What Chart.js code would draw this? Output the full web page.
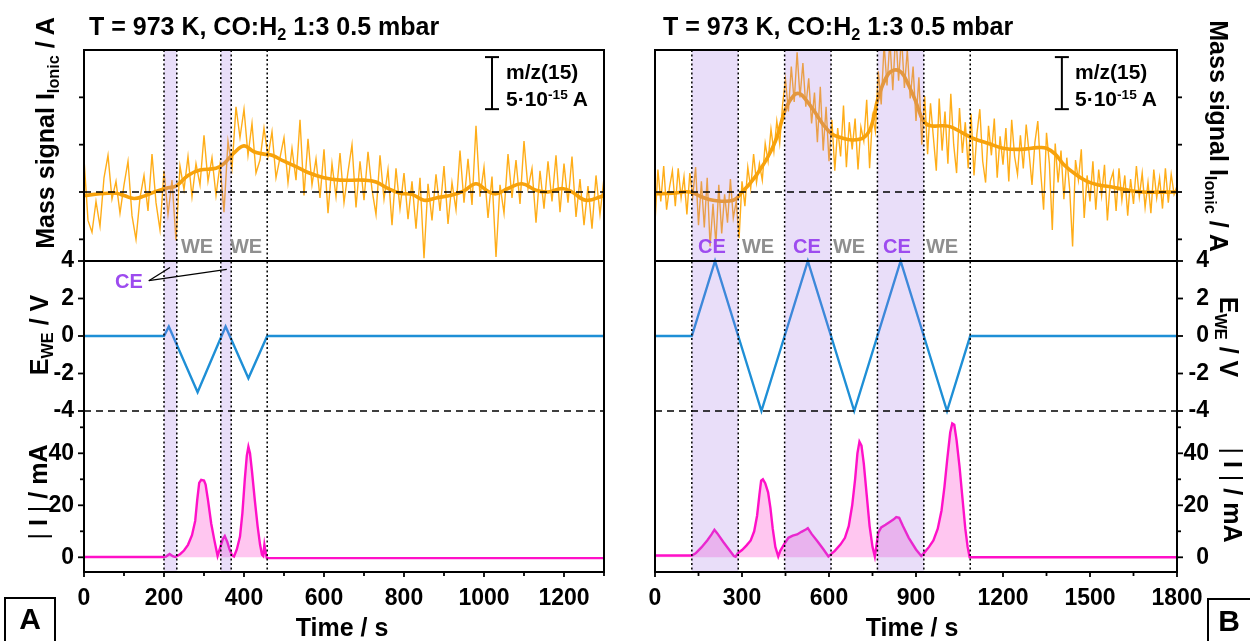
<!DOCTYPE html>
<html><head><meta charset="utf-8">
<script src="https://cdn.jsdelivr.net/npm/chart.js@4.4.0/dist/chart.umd.min.js"></script>
<style>
html,body{margin:0;padding:0;background:#fff;}
#wrap{position:relative;width:1250px;height:641px;overflow:hidden;font-family:"Liberation Sans",Arial,sans-serif;font-weight:bold;color:#000;}
canvas{position:absolute;top:0;}
.t{position:absolute;white-space:nowrap;line-height:1;z-index:5;}
.rl{transform:translate(-50%,-50%) rotate(-90deg);}
.rr{transform:translate(-50%,-50%) rotate(90deg);}
.c{transform:translate(-50%,-50%);}
.sb{font-size:65%;position:relative;top:0.28em;}
.sp{font-size:65%;position:relative;top:-0.55em;}
.we{color:#8f8f8f;font-size:20px;}
.ce{color:#9d4bef;font-size:20px;}
.box{position:absolute;border:2px solid #000;background:#fff;z-index:4;}
.bar{font-weight:normal;}
</style></head>
<body><div id="wrap">
<canvas id="cA" width="625" height="641" style="left:0"></canvas>
<canvas id="cB" width="625" height="641" style="left:625px"></canvas>

<div class="t" style="left:89px;top:14px;font-size:25px">T = 973 K, CO:H<span class="sb">2</span> 1:3 0.5 mbar</div>
<div class="t" style="left:663px;top:14px;font-size:25px">T = 973 K, CO:H<span class="sb">2</span> 1:3 0.5 mbar</div>

<div class="t rl" style="left:45px;top:133px;font-size:25px">Mass signal I<span class="sb">Ionic</span> / A</div>
<div class="t rl" style="left:39px;top:335px;font-size:25px">E<span class="sb">WE</span> / V</div>
<div class="t rl" style="left:38px;top:492px;font-size:25px"><span class="bar">|</span> I <span class="bar">|</span> / mA</div>

<div class="t rr" style="left:1218px;top:136px;font-size:25px">Mass signal I<span class="sb">Ionic</span> / A</div>
<div class="t rr" style="left:1228px;top:337px;font-size:25px">E<span class="sb">WE</span> / V</div>
<div class="t rr" style="left:1232px;top:495px;font-size:25px"><span class="bar">|</span> I <span class="bar">|</span> / mA</div>

<div class="t c" style="left:342px;top:627px;font-size:25px">Time / s</div>
<div class="t c" style="left:912px;top:627px;font-size:25px">Time / s</div>

<div class="t" style="left:506px;top:61px;font-size:21px">m/z(15)</div>
<div class="t" style="left:506px;top:88px;font-size:21px">5·10<span class="sp">-15</span> A</div>
<div class="t" style="left:1075px;top:61px;font-size:21px">m/z(15)</div>
<div class="t" style="left:1075px;top:88px;font-size:21px">5·10<span class="sp">-15</span> A</div>

<div class="t c we" style="left:197px;top:246px">WE</div>
<div class="t c we" style="left:246px;top:246px">WE</div>
<div class="t c ce" style="left:129px;top:281px">CE</div>

<div class="t c ce" style="left:712px;top:246px">CE</div>
<div class="t c we" style="left:758px;top:246px">WE</div>
<div class="t c ce" style="left:807px;top:246px">CE</div>
<div class="t c we" style="left:849px;top:246px">WE</div>
<div class="t c ce" style="left:897px;top:246px">CE</div>
<div class="t c we" style="left:942px;top:246px">WE</div>

<div class="box" style="left:4px;top:597px;width:48px;height:60px"></div>
<div class="t c" style="left:30px;top:619px;font-size:30px">A</div>
<div class="box" style="left:1207px;top:598px;width:48px;height:60px"></div>
<div class="t c" style="left:1229px;top:621px;font-size:30px">B</div>
</div>
<script>
// ---------------- DATA ----------------
// Panel A (0-1300 s)
const xTicksA = [0, 200, 400, 600, 800, 1000, 1200];
const xMinorA = [100, 300, 500, 700, 900, 1100, 1300];
const massStepA = 10; // s between raw mass samples
const massRawA = [
  2.8, -2.4, -3.4, -0.8, -2.9, 1.2, 3.1, -0.6, 0.9, -1.8,
  0.6, 2.6, -2.0, -4.0, -0.5, 1.4, -1.6, 3.2, -0.9, -3.2,
  1.8, -1.9, 1.0, -4.1, 2.2, 0.2, 3.0, -0.4, 2.4, 0.6,
  4.8, 0.9, 2.9, -0.3, 2.3, -1.7, 4.3, 2.0, 7.2, 4.6,
  7.0, 3.1, 5.8, 1.6, 2.7, 5.4, 3.0, 5.1, 1.2, 2.9,
  4.6, 0.8, 3.7, 1.0, 6.1, -0.3, 4.5, 0.6, 2.8, -0.5,
  3.6, -1.8, 2.4, -0.4, 3.3, -0.9, 1.7, 4.0, -1.3, 2.6,
  -0.7, 3.4, 0.2, -1.9, 3.1, -0.6, 1.9, -2.8, 2.0, -1.4,
  1.6, -2.3, 0.9, -3.1, 1.2, -5.6, 0.7, -2.4, 1.5, -1.6,
  2.2, -2.7, 0.8, -1.5, 3.5, -0.9, 2.8, -1.1, 5.6, -0.4,
  2.1, -2.2, 1.3, -5.5, 0.6, -1.8, 3.2, -0.5, 2.7, -1.0,
  4.3, 0.3, 2.0, -2.6, 1.8, -1.4, 2.6, -0.8, 3.1, -1.7,
  2.4, -0.9, 3.0, -2.1, 1.1, -2.8, 0.5, -3.1, 1.4, -1.9,
  1.2
];
const massSmoothTA = [0,40,80,100,125,150,180,210,230,260,290,330,350,375,400,425,450,470,500,530,560,600,640,700,730,760,790,820,850,880,920,950,980,1010,1030,1060,1095,1130,1160,1195,1220,1255,1300];
const massSmoothA  = [-0.3,-0.15,-0.1,-0.3,-0.55,-0.35,0.05,0.35,0.5,1.4,1.85,2.0,2.4,3.3,3.9,3.4,3.2,3.1,2.6,2.15,1.65,1.2,1.0,1.0,0.85,0.3,-0.1,-0.2,-0.7,-0.5,-0.25,0.1,0.7,0.05,-0.15,0.3,0.7,0.15,0,0.3,0,-0.7,-0.3];
const eTA = [0, 200, 212, 284, 354, 411, 458, 1300];
const eVA = [0, 0, 0.5, -3, 0.5, -2.25, 0, 0];
const iTA = [0,195,205,214,222,228,240,250,260,270,278,283,288,293,300,304,310,318,326,334,340,347,352,358,364,370,375,382,390,396,402,407,411,415,420,427,434,440,445,448,451,454,457,1300];
const iVA = [0.1,0.1,0.3,1.3,0.4,0.1,1.2,2.6,4.8,8.5,14,22,28.6,29.8,29.5,28,22,13,6.5,0.5,3.5,7,8.2,6,3,0.8,0.3,3,8,17,30,39,42.5,40,33,22,12,5,1,0.5,4.8,2,-0.3,-0.3];
const dottedA = [200, 232, 342, 368, 458];
const shadedA = [[200, 232], [342, 368]];

// Panel B (0-1800 s)
const xTicksB = [0, 300, 600, 900, 1200, 1500, 1800];
const xMinorB = [150, 450, 750, 1050, 1350, 1650];
const massStepB = 10;
const massRawB = [
  -2.6, 1.9, -0.8, 2.2, -1.5, 0.4, 1.8, -1.2, 2.0, -0.5,
  1.3, -1.9, 1.6, -0.4, 2.1, -2.8, 0.9, -3.0, 1.2, -4.6,
  -1.0, -4.4, 0.6, -3.5, -0.2, -2.6, 1.1, -2.2, -0.8, -3.9,
  0.9, -1.2, 2.1, 0.3, 3.2, 0.8, 2.4, 1.0, 4.1, 2.6,
  5.3, 3.4, 6.0, 4.1, 7.4, 9.5, 6.8, 10.6, 7.6, 11.8,
  8.0, 10.9, 7.2, 9.6, 5.8, 8.4, 4.2, 8.9, 3.5, 7.2,
  2.6, 6.1, 1.8, 5.4, 3.0, 7.3, 2.1, 5.9, 3.6, 6.2,
  1.9, 5.5, 4.3, 7.8, 2.0, 6.4, 5.1, 10.2, 7.4, 12.5,
  9.0, 12.8, 8.6, 13.5, 9.4, 13.2, 8.8, 12.0, 7.9, 10.6,
  6.0, 9.7, 4.0, 8.1, 3.2, 7.5, 4.6, 1.8, 7.9, 3.5,
  6.8, 2.4, 8.3, 4.0, 1.6, 7.1, 3.3, 5.9, 2.0, 6.6,
  1.4, 4.9, 7.0, 2.6, 0.8, 5.6, 3.1, 6.2, 1.2, 4.7,
  2.3, 5.4, 0.9, 6.1, 3.0, 1.5, 4.8, 2.0, 5.7, 3.3,
  0.6, 4.2, 6.0, 1.7, -1.5, 5.0, 2.4, -3.2, 4.1, 0.8,
  3.5, -0.6, 2.9, 0.2, -4.6, 2.7, 1.0, 3.6, -2.2, 1.4,
  -0.8, 2.6, -1.5, 1.9, -0.3, 2.3, -2.4, 0.9, 1.7, -1.6,
  2.0, -0.7, 1.4, -2.0, 1.1, -1.0, 2.2, -0.4, 1.6, -1.3,
  0.8, -1.8, 1.9, -0.5, 1.2, -1.4, 2.0, -0.9, 1.5, -0.2,
  0.5
];
const massSmoothTB = [0,60,120,160,200,270,300,330,360,390,420,450,480,500,520,550,580,610,640,680,720,745,770,800,825,850,875,900,925,950,990,1020,1060,1100,1150,1200,1260,1320,1350,1380,1410,1450,1490,1530,1580,1620,1680,1800];
const massSmoothB  = [-0.15,-0.1,0,-0.4,-0.7,-0.7,0,0.8,1.8,3.0,4.6,7.0,8.2,8.3,7.8,6.8,5.7,4.9,4.6,4.4,4.6,5.5,8.0,9.8,10.3,10.1,9.0,7.6,6.0,5.6,5.6,5.5,5.0,4.5,4.1,3.7,3.6,3.75,3.7,3.2,2.3,1.5,0.9,0.6,0.4,0.2,0,0];
const eTB = [0, 127, 207, 287, 367, 447, 527, 607, 687, 767, 847, 927, 1007, 1087, 1800];
const eVB = [0, 0, 4, 0, -4, 0, 4, 0, -4, 0, 4, 0, -4, 0, 0];
const iTB = [0,127,140,160,180,195,205,215,235,255,272,278,285,300,315,330,342,352,360,366,372,380,390,398,406,415,425,432,445,460,475,490,505,520,527,540,560,580,598,605,620,640,655,668,680,690,698,705,712,720,730,740,750,758,763,770,780,795,808,822,832,842,855,875,900,918,930,945,960,975,988,998,1008,1018,1025,1032,1040,1050,1060,1070,1078,1085,1800];
const iVB = [0.7,0.7,1.5,3.8,6.5,8.8,10.6,9.2,6,3,0.5,0.2,1.5,2.8,4.5,6.5,10,16,24,29.5,30,28.5,25,19,11,4,0.3,2.5,5,7.5,8.3,8.8,9.8,10.7,11.2,9,6.2,3.2,0.3,1,2.5,5,7.5,12,20,30,40,44.5,43,36,24,12,4,0.3,4,9.5,11.5,12.5,13.5,14.5,15.5,15.2,12,7.5,3,0.5,2,4,6.5,11,18,27,38,48,51.5,51,45,35,23,11,4,0,0];
const dottedB = [127, 287, 447, 607, 767, 927, 1087];
const shadedB = [[127, 287], [447, 607], [767, 927]];

// y tick values
const massTicks = [-4, 0, 4, 8];
const eTicks = [-4, -2, 0, 2, 4];
const iTicks = [0, 20, 40];
const iMinor = [10, 30, 50];

// ---------------- LAYOUT ----------------
const CA_TOP = 50, CA_BOT = 572;           // plot area (px)
const SPLIT1 = 261, SPLIT2 = 427;          // subplot boundaries (px)
function rangeFor(v1, p1, v2, p2, top, bot) {
  const k = (v2 - v1) / (p2 - p1);
  return {min: v1 + (bot - p1) * k, max: v1 + (top - p1) * k};
}
const rM = rangeFor(0, 192, 12, 50, CA_TOP, SPLIT1);
const rE = rangeFor(0, 336, 4, 261, SPLIT1, SPLIT2);
const rI = rangeFor(0, 557.3, 40, 453.3, SPLIT2, CA_BOT);
const wM = SPLIT1 - CA_TOP, wE = SPLIT2 - SPLIT1, wI = CA_BOT - SPLIT2;

const FONT = {family: 'Liberation Sans', size: 23, weight: 'bold'};
const pts = (ts, vs) => ts.map((t, i) => ({x: t, y: vs[i]}));
const ptsStep = (step, vs) => vs.map((v, i) => ({x: i * step, y: v}));

const decoPlugin = {
  id: 'deco',
  afterDatasetsDraw(chart, args, o) {
    const ctx = chart.ctx, ca = chart.chartArea;
    const sx = chart.scales.x, sM = chart.scales.yM, sE = chart.scales.yE, sI = chart.scales.yI;
    const line = (x1, y1, x2, y2) => { ctx.beginPath(); ctx.moveTo(x1, y1); ctx.lineTo(x2, y2); ctx.stroke(); };
    ctx.save();
    ctx.fillStyle = 'rgba(165,115,232,0.24)';
    o.shaded.forEach(([a, b]) => {
      const xa = sx.getPixelForValue(a), xb = sx.getPixelForValue(b);
      ctx.fillRect(xa, ca.top, xb - xa, ca.bottom - ca.top);
    });
    ctx.strokeStyle = '#000';
    ctx.lineWidth = 1.5;
    ctx.setLineDash([2, 2.5]);
    o.dotted.forEach(t => { const x = sx.getPixelForValue(t); line(x, ca.top, x, ca.bottom); });
    ctx.setLineDash([7, 5]);
    const y0 = sM.getPixelForValue(0); line(ca.left, y0, ca.right, y0);
    const ym4 = sE.getPixelForValue(-4); line(ca.left, ym4, ca.right, ym4);
    ctx.setLineDash([]);
    ctx.lineWidth = 2;
    const y4 = sE.getPixelForValue(4); line(ca.left, y4, ca.right, y4);
    ctx.strokeRect(ca.left, ca.top, ca.right - ca.left, ca.bottom - ca.top);
    const side = o.side;
    const ax = side === 'left' ? ca.left : ca.right;
    const dir = side === 'left' ? -1 : 1;
    const yt = (sc, vals, len) => vals.forEach(v => { const y = sc.getPixelForValue(v); line(ax, y, ax + dir * len, y); });
    ctx.lineWidth = 1.8;
    yt(sM, massTicks, 5);
    yt(sE, eTicks, 6);
    yt(sI, iTicks, 6);
    yt(sI, iMinor, 4);
    o.xMajor.forEach(v => { const x = sx.getPixelForValue(v); line(x, ca.bottom, x, ca.bottom + 5); });
    o.xMinor.forEach(v => { const x = sx.getPixelForValue(v); line(x, ca.bottom, x, ca.bottom + 4); });
    const bx = sx.getPixelForValue(o.bar.t), bt = sM.getPixelForValue(o.bar.top), bb = sM.getPixelForValue(o.bar.top - o.bar.len);
    ctx.lineWidth = 2;
    line(bx, bt, bx, bb); line(bx - 7, bt, bx + 7, bt); line(bx - 7, bb, bx + 7, bb);
    if (o.pointer) {
      ctx.lineWidth = 1.3;
      const [ft, fe] = o.pointer.from;
      const fx = sx.getPixelForValue(ft), fy = sE.getPixelForValue(fe);
      o.pointer.to.forEach(([tt, te]) => line(fx, fy, sx.getPixelForValue(tt), sE.getPixelForValue(te)));
    }
    ctx.restore();
  }
};

function makePanel(id, cfg) {
  const tickCb = v => String(v);
  const left = cfg.side === 'left';
  const yAxis = (r, ticks, order, sw) => ({
    type: 'linear', position: cfg.side, min: r.min, max: r.max,
    stack: 'panel', stackWeight: sw, weight: left ? 3 - order : order,
    afterFit: s => { s.width = cfg.axisW; },
    afterBuildTicks: s => { s.ticks = ticks.map(v => ({value: v})); },
    grid: {display: true, drawOnChartArea: false, drawTicks: true, tickLength: 6, color: 'rgba(0,0,0,0)'},
    border: {display: false},
    ticks: {font: FONT, color: '#000', padding: 4, callback: tickCb, autoSkip: false,
            crossAlign: left ? 'near' : 'far'}
  });
  new Chart(document.getElementById(id), {
    type: 'line',
    data: {datasets: [
      {data: pts(cfg.msT, cfg.msV), borderColor: '#F7A20C', borderWidth: 3.6, tension: 0.4, yAxisID: 'yM', pointRadius: 0},
      {data: ptsStep(cfg.mStep, cfg.mRaw), borderColor: '#FFAD18', borderWidth: 1.4, tension: 0, yAxisID: 'yM', pointRadius: 0},
      {data: pts(cfg.eT, cfg.eV), borderColor: '#1E8FD6', borderWidth: 2.4, tension: 0, yAxisID: 'yE', pointRadius: 0, clip: false},
      {data: pts(cfg.iT, cfg.iV), borderColor: '#FF10C8', borderWidth: 2.4, tension: 0, yAxisID: 'yI', pointRadius: 0, clip: false,
       fill: 'origin', backgroundColor: 'rgba(255,120,220,0.42)'}
    ]},
    options: {
      responsive: false, animation: false, devicePixelRatio: 1,
      layout: {padding: cfg.pad},
      plugins: {legend: {display: false}, tooltip: {enabled: false},
        deco: {side: cfg.side, shaded: cfg.shaded, dotted: cfg.dotted, xMajor: cfg.xTicks, xMinor: cfg.xMinor, bar: cfg.bar, pointer: cfg.pointer}},
      scales: {
        x: {type: 'linear', position: 'bottom', min: 0, max: cfg.xmax,
            afterFit: s => { s.height = 641 - CA_BOT; },
            afterBuildTicks: s => { s.ticks = cfg.xTicks.map(v => ({value: v})); },
            grid: {display: true, drawOnChartArea: false, drawTicks: true, tickLength: 5, color: 'rgba(0,0,0,0)'},
            border: {display: false},
            ticks: {font: FONT, color: '#000', padding: 8, maxRotation: 0, autoSkip: false, callback: tickCb}},
        yM: yAxis(rM, [], 0, wM),
        yE: yAxis(rE, eTicks, 1, wE),
        yI: yAxis(rI, iTicks, 2, wI)
      }
    },
    plugins: [decoPlugin]
  });
}

makePanel('cA', {
  side: 'left', xmax: 1300, xTicks: xTicksA, xMinor: xMinorA, axisW: 80,
  pad: {left: 4, right: 21, top: CA_TOP, bottom: 0},
  msT: massSmoothTA, msV: massSmoothA, mStep: massStepA, mRaw: massRawA,
  eT: eTA, eV: eVA, iT: iTA, iV: iVA, dotted: dottedA, shaded: shadedA,
  bar: {t: 1020, top: 11.4, len: 4.4},
  pointer: {from: [162, 2.95], to: [[215, 3.65], [357, 3.55]]}
});
makePanel('cB', {
  side: 'right', xmax: 1800, xTicks: xTicksB, xMinor: xMinorB, axisW: 32,
  pad: {left: 30, right: 41, top: CA_TOP, bottom: 0},
  msT: massSmoothTB, msV: massSmoothB, mStep: massStepB, mRaw: massRawB,
  eT: eTB, eV: eVB, iT: iTB, iV: iVB, dotted: dottedB, shaded: shadedB,
  bar: {t: 1403, top: 11.4, len: 4.4}
});
</script>
</body></html>
